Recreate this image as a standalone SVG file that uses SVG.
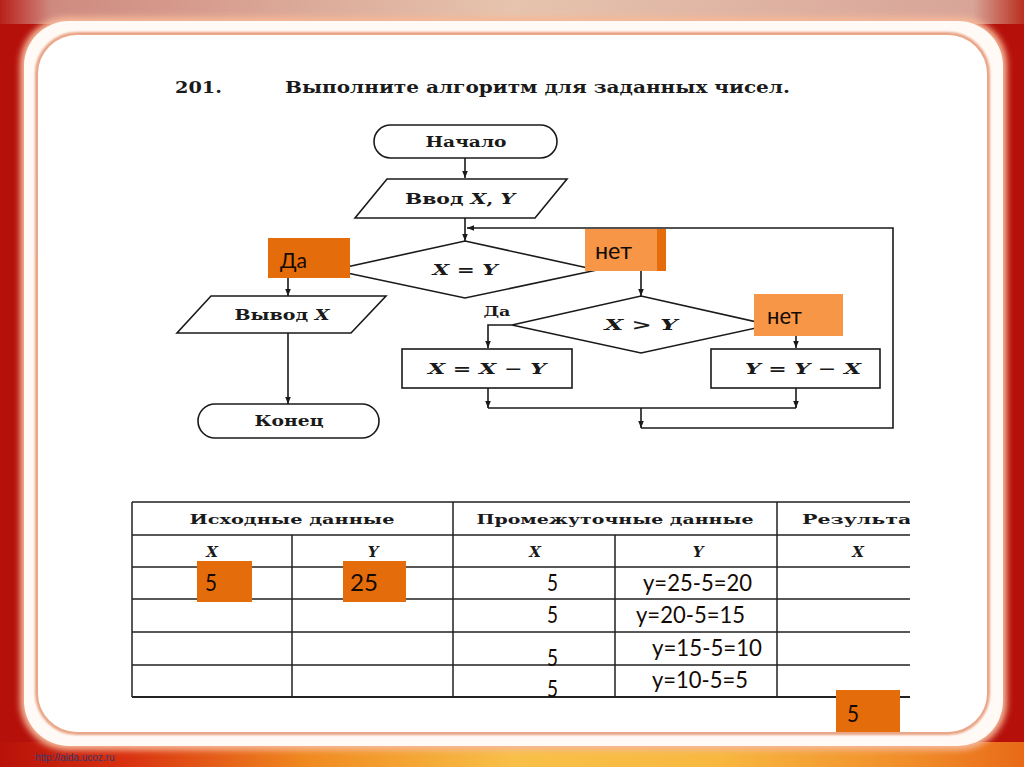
<svg xmlns="http://www.w3.org/2000/svg" width="1024" height="767" viewBox="0 0 1024 767">
<defs>
<linearGradient id="topband" x1="0" y1="0" x2="1" y2="0">
<stop offset="0" stop-color="#b8201a"/><stop offset="0.05" stop-color="#cf8a80"/><stop offset="0.5" stop-color="#e6c4ae"/><stop offset="0.95" stop-color="#d8a498"/><stop offset="1" stop-color="#b83020"/>
</linearGradient>
<linearGradient id="botband" x1="0" y1="0" x2="1" y2="0">
<stop offset="0" stop-color="#b8120a"/><stop offset="0.12" stop-color="#d83010"/><stop offset="0.3" stop-color="#f08a20"/><stop offset="0.5" stop-color="#f8c048"/><stop offset="0.7" stop-color="#f8b840"/><stop offset="0.9" stop-color="#f08a28"/><stop offset="1" stop-color="#e86a18"/>
</linearGradient>
<filter id="glow" x="-5%" y="-5%" width="110%" height="110%"><feGaussianBlur stdDeviation="3"/></filter>
<filter id="soft" x="-5%" y="-5%" width="110%" height="110%"><feGaussianBlur stdDeviation="1.2"/></filter>
<marker id="ah" viewBox="0 0 10 10" refX="10" refY="5" markerWidth="7" markerHeight="7" orient="auto" markerUnits="userSpaceOnUse"><path d="M0,1 L10,5 L0,9 z" fill="#1a1a1a"/></marker>
<clipPath id="tclip"><rect x="100" y="490" width="810" height="230"/></clipPath>
</defs>
<style>
.ln{fill:none;stroke:#1a1a1a;stroke-width:1.6}
.nd{fill:#fff;stroke:#1a1a1a;stroke-width:1.6}
.fc{font-family:'DejaVu Serif','Liberation Serif',serif;font-weight:bold;fill:#1a1a1a;text-anchor:middle}
.it{font-style:italic}
.ob{fill:#e46c0a}
.lb{fill:#f79646}
.ot{font-family:Lato,'Open Sans','Liberation Sans',sans-serif;fill:#140a04}
.tb{stroke:#222;stroke-width:1.5;fill:none}
.th{font-family:'DejaVu Serif','Liberation Serif',serif;font-weight:bold;fill:#1a1a1a;font-size:13px}
.hx{font-family:'DejaVu Serif','Liberation Serif',serif;font-weight:bold;font-style:italic;fill:#1a1a1a;font-size:15px;text-anchor:middle}
</style>

<g id="background">
<rect width="1024" height="767" fill="#b5100a"/>
<rect width="1024" height="24" fill="url(#topband)"/>
<rect y="742" width="1024" height="25" fill="url(#botband)"/>
<rect x="20" y="17" width="987" height="733" rx="48" fill="#f6b898" filter="url(#glow)"/>
<rect x="24" y="21" width="979" height="725" rx="45" fill="#fffaf6"/>
<rect x="37" y="34" width="951" height="699" rx="40" fill="none" stroke="#e8a080" stroke-width="4" filter="url(#soft)"/>
<rect x="38" y="35" width="949" height="697" rx="39" fill="#ffffff"/>
<text x="35" y="761" font-family="'Liberation Sans',sans-serif" font-size="10" fill="#3a3a6a">http://aida.ucoz.ru</text>
</g>

<g id="title">
<text x="175" y="93" class="fc" style="text-anchor:start" font-size="17" textLength="47" lengthAdjust="spacingAndGlyphs">201.</text>
<text x="285" y="93" class="fc" style="text-anchor:start" font-size="17" textLength="505" lengthAdjust="spacingAndGlyphs">Выполните алгоритм для заданных чисел.</text>
</g>

<g id="connectors">
<path class="ln" d="M465,158 V178" marker-end="url(#ah)"/>
<path class="ln" d="M465,218 V241" marker-end="url(#ah)"/>
<path class="ln" d="M641,428 H893 V228 H467" marker-end="url(#ah)"/>
<path class="ln" d="M333,270 H288 V296" marker-end="url(#ah)"/>
<path class="ln" d="M597,270 H641 V296" marker-end="url(#ah)"/>
<path class="ln" d="M512,325 H488 V348" marker-end="url(#ah)"/>
<path class="ln" d="M770,325 H796 V348" marker-end="url(#ah)"/>
<path class="ln" d="M488,388 V408" marker-end="url(#ah)"/>
<path class="ln" d="M796,388 V408" marker-end="url(#ah)"/>
<path class="ln" d="M488,408 H796"/>
<path class="ln" d="M641,408 V428" marker-end="url(#ah)"/>
<path class="ln" d="M288,333 V404" marker-end="url(#ah)"/>
</g>

<g id="start">
<rect class="nd" x="374" y="125" width="183" height="33" rx="16.5"/>
<text class="fc" x="466" y="147" font-size="15" textLength="81" lengthAdjust="spacingAndGlyphs">Начало</text>
</g>
<g id="input">
<polygon class="nd" points="387,179 567,179 535,218 355,218"/>
<text class="fc" x="460" y="204" font-size="15" textLength="110" lengthAdjust="spacingAndGlyphs">Ввод <tspan class="it">X</tspan>, <tspan class="it">Y</tspan></text>
</g>
<g id="cond1">
<polygon class="nd" points="465,241 597,270 465,298 333,270"/>
<text class="fc" x="465" y="275" font-size="15" textLength="65" lengthAdjust="spacingAndGlyphs"><tspan class="it">X</tspan> = <tspan class="it">Y</tspan></text>
</g>
<g id="output">
<polygon class="nd" points="211,296 386,296 351,333 177,333"/>
<text class="fc" x="282" y="320" font-size="15" textLength="95" lengthAdjust="spacingAndGlyphs">Вывод <tspan class="it">X</tspan></text>
</g>
<g id="end">
<rect class="nd" x="198" y="404" width="181" height="34" rx="17"/>
<text class="fc" x="289" y="426" font-size="15" textLength="69" lengthAdjust="spacingAndGlyphs">Конец</text>
</g>
<g id="cond2">
<polygon class="nd" points="641,296 770,325 641,353 512,325"/>
<text class="fc" x="641" y="330" font-size="15" textLength="73" lengthAdjust="spacingAndGlyphs"><tspan class="it">X</tspan> &gt; <tspan class="it">Y</tspan></text>
<text class="fc" x="497" y="316" font-size="13" textLength="27" lengthAdjust="spacingAndGlyphs">Да</text>
</g>
<g id="proc1">
<rect class="nd" x="402" y="349" width="170" height="39"/>
<text class="fc" x="487" y="374" font-size="15" textLength="118" lengthAdjust="spacingAndGlyphs"><tspan class="it">X</tspan> = <tspan class="it">X</tspan> − <tspan class="it">Y</tspan></text>
</g>
<g id="proc2">
<rect class="nd" x="711" y="349" width="169" height="39"/>
<text class="fc" x="803" y="374" font-size="15" textLength="116" lengthAdjust="spacingAndGlyphs"><tspan class="it">Y</tspan> = <tspan class="it">Y</tspan> − <tspan class="it">X</tspan></text>
</g>

<g id="label-da">
<rect class="ob" x="268" y="238" width="82" height="40"/>
<text class="ot" x="280" y="268" font-size="22" textLength="27" lengthAdjust="spacingAndGlyphs">Да</text>
</g>
<g id="label-net1">
<rect class="lb" x="585" y="229" width="81" height="42"/>
<rect class="ob" x="657" y="229" width="9" height="42"/>
<text class="ot" x="595" y="259" font-size="23" textLength="37" lengthAdjust="spacingAndGlyphs">нет</text>
</g>
<g id="label-net2">
<rect class="lb" x="754" y="294" width="89" height="42"/>
<text class="ot" x="767" y="324" font-size="23" textLength="35" lengthAdjust="spacingAndGlyphs">нет</text>
</g>

<g id="table">
<g clip-path="url(#tclip)">
<path class="tb" d="M132,502 H912 M132,535 H912 M132,567 H912 M132,599 H912 M132,632 H912 M132,665 H912"/>
<path class="tb" d="M132,697 H912" style="stroke-width:2.2"/>
<path class="tb" d="M132,502 V697 M292,535 V697 M453,502 V697 M615,535 V697 M777,502 V697"/>
<text class="th" x="292" y="524" text-anchor="middle" textLength="205" lengthAdjust="spacingAndGlyphs">Исходные данные</text>
<text class="th" x="615" y="524" text-anchor="middle" textLength="277" lengthAdjust="spacingAndGlyphs">Промежуточные данные</text>
<text class="th" x="802" y="524" textLength="122" lengthAdjust="spacingAndGlyphs">Результат</text>
<text class="hx" x="212" y="557">X</text>
<text class="hx" x="373" y="557">Y</text>
<text class="hx" x="535" y="557">X</text>
<text class="hx" x="698" y="557">Y</text>
<text class="hx" x="858" y="557">X</text>
</g>
<text class="ot" x="547" y="591" font-size="24" textLength="11" lengthAdjust="spacingAndGlyphs">5</text>
<text class="ot" x="643" y="591" font-size="24" textLength="109" lengthAdjust="spacingAndGlyphs">y=25-5=20</text>
<text class="ot" x="547" y="623" font-size="24" textLength="11" lengthAdjust="spacingAndGlyphs">5</text>
<text class="ot" x="636" y="623" font-size="24" textLength="109" lengthAdjust="spacingAndGlyphs">y=20-5=15</text>
<text class="ot" x="547" y="666" font-size="24" textLength="11" lengthAdjust="spacingAndGlyphs">5</text>
<text class="ot" x="652" y="656" font-size="24" textLength="110" lengthAdjust="spacingAndGlyphs">y=15-5=10</text>
<text class="ot" x="547" y="697" font-size="24" textLength="11" lengthAdjust="spacingAndGlyphs">5</text>
<text class="ot" x="652" y="688" font-size="24" textLength="96" lengthAdjust="spacingAndGlyphs">y=10-5=5</text>
</g>

<g id="value-x">
<rect class="ob" x="197" y="561" width="55" height="41"/>
<text class="ot" x="205" y="591" font-size="24" textLength="12" lengthAdjust="spacingAndGlyphs">5</text>
</g>
<g id="value-y">
<rect class="ob" x="343" y="561" width="63" height="41"/>
<text class="ot" x="350" y="591" font-size="24" textLength="28" lengthAdjust="spacingAndGlyphs">25</text>
</g>
<g id="value-result">
<rect class="ob" x="836" y="690" width="64" height="42"/>
<text class="ot" x="847" y="722" font-size="24" textLength="12" lengthAdjust="spacingAndGlyphs">5</text>
</g>
</svg>
